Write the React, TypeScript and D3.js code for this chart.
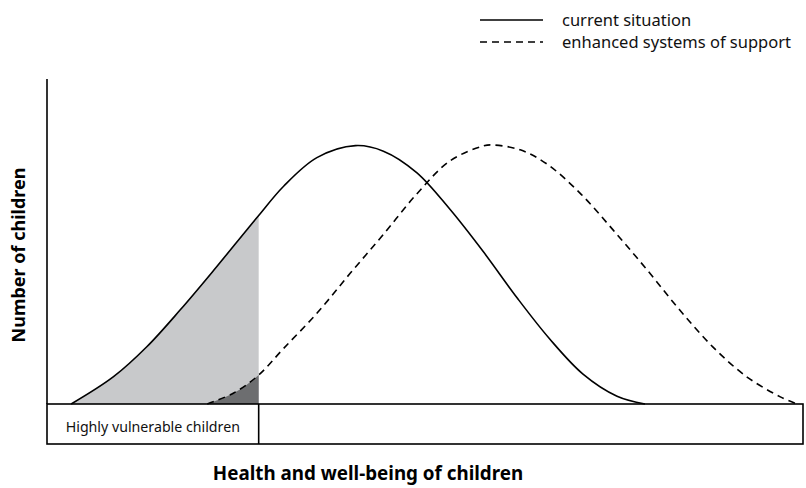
import React from "react";
import * as d3 from "d3";

// x: health & well-being (0-100), y: number of children (0-100)
const currentX = [3.2, 8.8, 13.2, 17.6, 22.0, 26.5, 28.0, 31.3, 35.7, 40.8, 44.5, 48.9, 53.3, 57.7, 62.2, 66.5, 70.9, 75.4, 79.1];
const currentY = [0, 8.4, 17.6, 28.9, 41.0, 53.8, 58.0, 67.0, 75.8, 79.5, 77.8, 71.2, 59.9, 46.9, 32.6, 20.0, 9.2, 2.4, 0];

const enhancedX = [21.2, 24.7, 28.0, 31.3, 35.7, 40.1, 44.5, 48.9, 53.3, 57.7, 59.0, 62.6, 66.1, 70.5, 74.9, 79.4, 83.7, 88.1, 92.6, 97.0, 99.2];
const enhancedY = [0, 3.4, 8.9, 17.1, 27.9, 40.2, 52.2, 64.6, 74.8, 79.4, 79.7, 78.2, 73.9, 64.9, 53.5, 41.2, 28.9, 17.5, 8.3, 2.2, 0];

const vulnerableCut = 28.0;

const legendLabels = ["current situation", "enhanced systems of support"];
const yTitle = "Number of children";
const xTitle = "Health and well-being of children";
const bandLabel = "Highly vulnerable children";

const width = 806;
const height = 488;
const margin = { top: 79, right: 3, bottom: 84, left: 47 };
const bandHeight = 40;

const font = "'Noto Sans', sans-serif";

const App = () => {
  const innerW = width - margin.left - margin.right;
  const innerH = height - margin.top - margin.bottom;

  const xScale = d3.scaleLinear().domain([0, 100]).range([margin.left, margin.left + innerW]);
  const yScale = d3.scaleLinear().domain([0, 100]).range([margin.top + innerH, margin.top]);

  const current = currentX.map((x, i) => [x, currentY[i]] as [number, number]);
  const enhanced = enhancedX.map((x, i) => [x, enhancedY[i]] as [number, number]);

  const curve = d3.curveCatmullRom.alpha(0.5);

  const line = d3
    .line<[number, number]>()
    .x((d) => xScale(d[0]))
    .y((d) => yScale(d[1]))
    .curve(curve);

  const area = d3
    .area<[number, number]>()
    .x((d) => xScale(d[0]))
    .y0(yScale(0))
    .y1((d) => yScale(d[1]))
    .curve(curve);

  const base = yScale(0);
  const cutX = xScale(vulnerableCut);

  return (
    <svg
      width={width}
      height={height}
      viewBox={`0 0 ${width} ${height}`}
      style={{ position: "absolute", left: 0, top: 0, background: "#fff" }}
    >
      <defs>
        <clipPath id="vulnClip">
          <rect x={margin.left} y={margin.top} width={cutX - margin.left} height={innerH} />
        </clipPath>
      </defs>

      {/* shaded areas left of the cut */}
      <g clipPath="url(#vulnClip)">
        <path d={area(current) || ""} fill="#c8c9cb" />
        <path d={area(enhanced) || ""} fill="#6d6e70" />
      </g>

      {/* curves */}
      <path d={line(current) || ""} fill="none" stroke="#000" strokeWidth={1.6} />
      <path d={line(enhanced) || ""} fill="none" stroke="#000" strokeWidth={1.6} strokeDasharray="7,5" />

      {/* y axis line */}
      <line x1={margin.left} x2={margin.left} y1={margin.top} y2={base} stroke="#000" strokeWidth={1.6} />

      {/* band below baseline */}
      <rect
        x={margin.left}
        y={base}
        width={innerW}
        height={bandHeight}
        fill="none"
        stroke="#000"
        strokeWidth={1.6}
      />
      <line x1={cutX} x2={cutX} y1={base} y2={base + bandHeight} stroke="#000" strokeWidth={1.6} />
      <text
        x={(margin.left + cutX) / 2}
        y={base + 28}
        textAnchor="middle"
        fontFamily={font}
        fontSize={14.2}
        fill="#111"
      >
        {bandLabel}
      </text>

      {/* axis titles */}
      <text
        x={368}
        y={480}
        textAnchor="middle"
        fontFamily={font}
        fontWeight="bold"
        fontSize={18.8}
        fill="#000"
      >
        {xTitle}
      </text>
      <text
        transform={`translate(25, 255) rotate(-90)`}
        textAnchor="middle"
        fontFamily={font}
        fontWeight="bold"
        fontSize={18}
        fill="#000"
      >
        {yTitle}
      </text>

      {/* legend */}
      {legendLabels.map((label, i) => (
        <g key={label} transform={`translate(480, ${20 + i * 22})`}>
          <line
            x1={0}
            x2={63}
            y1={0}
            y2={0}
            stroke="#000"
            strokeWidth={1.6}
            strokeDasharray={i === 1 ? "7,5" : undefined}
          />
          <text x={82} y={6} fontFamily={font} fontSize={16.5} fill="#111">
            {label}
          </text>
        </g>
      ))}
    </svg>
  );
};

export default App;
